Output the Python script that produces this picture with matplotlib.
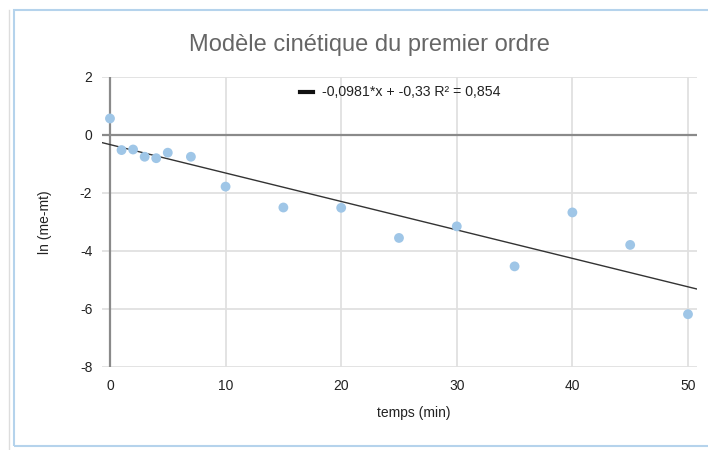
import matplotlib

matplotlib.use("Agg")
import matplotlib.pyplot as plt
from matplotlib.patches import Rectangle

plt.rcParams["font.family"] = ["Liberation Sans", "DejaVu Sans"]
plt.rcParams["axes.unicode_minus"] = False

# temps (min) et ln(me - mt)
temps = [0, 1, 2, 3, 4, 5, 7, 10, 15, 20, 25, 30, 35, 40, 45, 50]
ln_m = [0.57, -0.52, -0.50, -0.75, -0.80, -0.61, -0.75, -1.78, -2.50,
        -2.51, -3.55, -3.15, -4.53, -2.67, -3.79, -6.18]

# courbe de tendance affichée dans la légende
pente = -0.0981
ordonnee = -0.33
r2 = 0.854

x_ticks = [0, 10, 20, 30, 40, 50]
y_ticks = [-8, -6, -4, -2, 0, 2]

W, H = 708, 450
fig = plt.figure(figsize=(W / 100, H / 100), dpi=100)

# cadre du graphique et grille du tableur autour
fig.add_artist(Rectangle((14 / W, 1 - 446 / H), (W + 10 - 14) / W, (446 - 10) / H,
                         transform=fig.transFigure, fill=False,
                         edgecolor="#b5d3ec", linewidth=1.5))
fig.add_artist(plt.Line2D([9 / W, 9 / W], [0, 1 - 10 / H], transform=fig.transFigure,
                          color="#dddddd", linewidth=1))

left, right, top, bottom = 102, 697, 77, 367
ax = fig.add_axes([left / W, 1 - bottom / H, (right - left) / W, (bottom - top) / H])

x0, x1 = -0.69, 50.78
ax.set_xlim(x0, x1)
ax.set_ylim(-8, 2)
ax.set_xticks(x_ticks)
ax.set_yticks(y_ticks)
ax.tick_params(length=0, labelsize=10, colors="#222222")
ax.tick_params(axis="x", pad=9)
ax.tick_params(axis="y", pad=7)
for spine in ax.spines.values():
    spine.set_visible(False)
ax.grid(True, color="#e0e0e0", linewidth=1.3)
ax.set_axisbelow(True)
ax.axhline(0, color="#8a8a8a", linewidth=1.6, zorder=1)
ax.axvline(0, color="#8a8a8a", linewidth=1.6, zorder=1)

ax.plot([x0, x1], [ordonnee + pente * x0, ordonnee + pente * x1],
        color="#333333", linewidth=1.0, zorder=2)
ax.scatter(temps, ln_m, s=50, color="#9fc6e7", edgecolors="none", zorder=3)

fig.text(369 / W, 1 - 45 / H, "Modèle cinétique du premier ordre",
         ha="center", va="center", fontsize=17, color="#666666")
fig.text(414 / W, 1 - 413 / H, "temps (min)", ha="center", va="center",
         fontsize=10, color="#222222")
fig.text(45 / W, 1 - 222 / H, "ln (me-mt)", ha="center", va="center",
         rotation=90, fontsize=10, color="#222222")

# légende de la courbe de tendance
fig.add_artist(plt.Line2D([300 / W, 313 / W], [1 - 92 / H, 1 - 92 / H],
                          transform=fig.transFigure, color="#111111", linewidth=3))
legende = f"{pente:.4f}*x + {ordonnee:.2f} R² = {r2:.3f}".replace(".", ",")
fig.text(322 / W, 1 - 92 / H, legende, ha="left", va="center",
         fontsize=10.2, color="#222222")

fig.savefig("out.png", dpi=100)
